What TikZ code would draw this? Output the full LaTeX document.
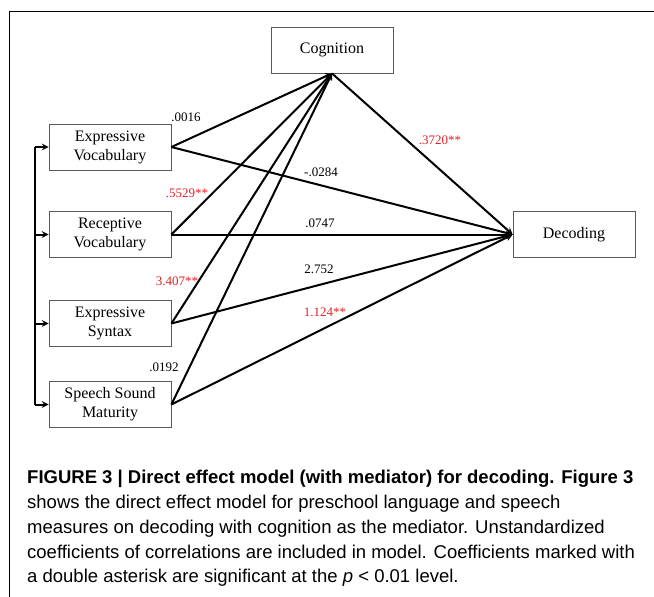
\documentclass[tikz,border=0pt]{standalone}
\usepackage{fontspec}
\setmainfont{Liberation Serif}
\newfontfamily\capfont{Liberation Sans}
\usepackage{tikz}
\usetikzlibrary{arrows,positioning}
\definecolor{coefred}{RGB}{228,32,36}
\definecolor{boxgray}{RGB}{90,90,90}

\begin{document}
\begin{tikzpicture}[x=1pt,y=-1pt,
    var/.style={draw=boxgray,line width=0.8pt,minimum width=122pt,minimum height=46pt,
      align=center,inner sep=2pt,font=\fontsize{16}{19}\selectfont},
    link/.style={line width=2pt,-stealth},
    coef/.style={font=\fontsize{13}{15}\selectfont,inner sep=1pt},
    sig/.style={coef,text=coefred}]
  \useasboundingbox (0,0) rectangle (654,597);
  \draw[line width=1.2pt] (9.5,597) -- (9.5,11.5) -- (654,11.5);

  \node[var] (cog) at (332,50) {Cognition};
  \node[var] (dec) at (574,234.5) {Decoding};
  \node[var] (ev) at (110,147) {Expressive\\Vocabulary};
  \node[var] (rv) at (110,234.5) {Receptive\\Vocabulary};
  \node[var] (es) at (110,323.5) {Expressive\\Syntax};
  \node[var] (ssm) at (110,404.5) {Speech Sound\\Maturity};

  \coordinate (bustop) at (35,147);
  \coordinate (busbot) at (35,404.5);
  \draw[line width=2pt] (bustop) -- (busbot);
  \foreach \v in {ev,rv,es,ssm}
    \draw[link] (bustop |- \v.west) -- (\v.west);
  \foreach \v in {ev,rv,es,ssm}{
    \draw[link] (\v.east) -- (cog.south);
    \draw[link] (\v.east) -- (dec.west);
  }
  \draw[link] (cog.south) -- (dec.west);

  \node[coef] (evcog) at (186,117) {.0016};
  \node[coef] (evdec) at (321,172) {-.0284};
  \node[sig] (rvcog) at (187,193) {.5529**};
  \node[coef] (rvdec) at (320,223) {.0747};
  \node[sig] (escog) at (177,281) {3.407**};
  \node[coef] (esdec) at (319,269) {2.752};
  \node[sig] (ssmdec) at (325,312) {1.124**};
  \node[coef] (ssmcog) at (164,367) {.0192};
  \node[sig] (cogdec) at (440,140) {.3720**};

  \node[anchor=north west,align=left,inner sep=0pt,
    font=\capfont\fontsize{18.5}{24.8}\selectfont] (caption) at (27,470)
    {\textbf{FIGURE 3 | Direct effect model (with mediator) for decoding. Figure 3}\\
     shows the direct effect model for preschool language and speech\\
     measures on decoding with cognition as the mediator. Unstandardized\\
     coefficients of correlations are included in model. Coefficients marked with\\
     a double asterisk are significant at the \textit{p} < 0.01 level.};
\end{tikzpicture}
\end{document}
